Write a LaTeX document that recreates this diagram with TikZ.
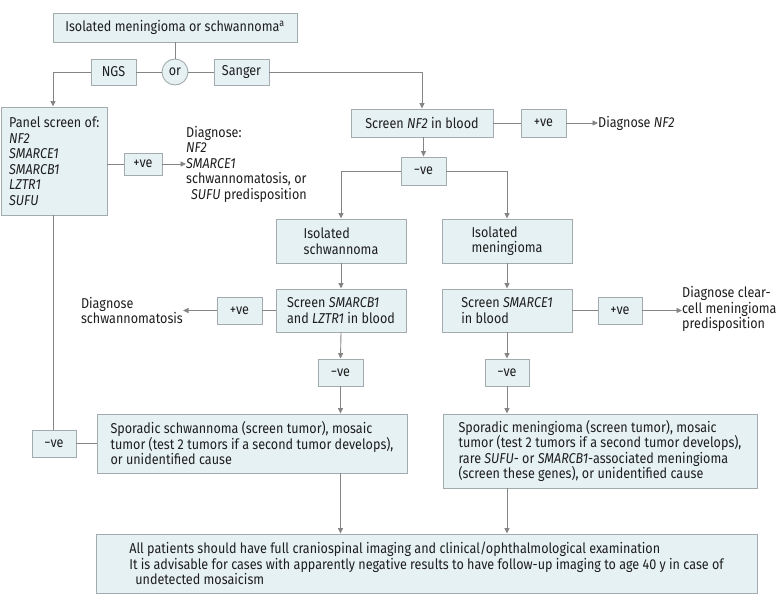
\documentclass[tikz,border=0pt]{standalone}
\usepackage{fontspec}
\setmainfont{Fira Sans}[FakeStretch=0.88]
\usetikzlibrary{arrows.meta}
\definecolor{boxfill}{HTML}{E6F1F4}
\definecolor{boxline}{HTML}{A3ABAE}
\definecolor{conn}{HTML}{858585}
\definecolor{txt}{HTML}{1E1E1E}
\tikzset{
  x=1pt, y=-1pt,
  every node/.style={font=\fontsize{14.3}{15.5}\selectfont, text=txt},
  fbox/.style={draw=boxline, fill=boxfill, line width=0.9pt, inner sep=0pt, align=left},
  plain/.style={inner sep=0pt, align=left},
  wire/.style={draw=conn, line width=0.9pt},
  arr/.style={wire, -{Triangle[length=5.5pt,width=5pt]}},
}
\begin{document}
\begin{tikzpicture}
\useasboundingbox (0,0) rectangle (783,608);
% top
\node[fbox, minimum width=244pt, minimum height=29pt] (top) at (175,27.5) {Isolated meningioma or schwannoma\textsuperscript{a}};
\node[fbox, minimum width=45pt, minimum height=26pt] (ngs) at (113.5,72) {NGS};
\node[draw=boxline, fill=boxfill, line width=0.9pt, circle, minimum size=26pt, inner sep=0pt] (or) at (175,72) {or};
\node[fbox, minimum width=55pt, minimum height=26pt] (sanger) at (241.5,72) {Sanger};
% left branch
\node[fbox, minimum width=105.5pt, minimum height=108pt] (panel) at (54.25,161) {Panel screen of:\\\textit{NF2}\\\textit{SMARCE1}\\\textit{SMARCB1}\\\textit{LZTR1}\\\textit{SUFU}};
\node[fbox, minimum width=38pt, minimum height=22pt] (pos1) at (143,164) {+ve};
\node[plain, anchor=west] (diag1) at (186,164) {Diagnose:\\\textit{NF2}\\\textit{SMARCE1}\\schwannomatosis, or\\\hspace{5pt}\textit{SUFU} predisposition};
% right branch
\node[fbox, minimum width=142pt, minimum height=28pt] (nf2) at (422,123) {Screen \textit{NF2} in blood};
\node[fbox, minimum width=45pt, minimum height=28pt] (pos2) at (543.5,123) {+ve};
\node[plain, anchor=west] (diag2) at (598,123) {Diagnose \textit{NF2}};
\node[fbox, minimum width=45pt, minimum height=28pt] (neg1) at (423.5,171) {−ve};
\node[fbox, minimum width=130pt, minimum height=44pt] (isoS) at (341,241) {Isolated\\schwannoma};
\node[fbox, minimum width=130pt, minimum height=44pt] (isoM) at (507,241) {Isolated\\meningioma};
\node[fbox, minimum width=130pt, minimum height=43pt] (scrB) at (341,310.5) {Screen \textit{SMARCB1}\\and \textit{LZTR1} in blood};
\node[fbox, minimum width=130pt, minimum height=43pt] (scrE) at (507,310.5) {Screen \textit{SMARCE1}\\in blood};
\node[fbox, minimum width=45pt, minimum height=27pt] (pos3) at (239.5,310.5) {+ve};
\node[plain, anchor=east] (diag3) at (183,310.5) {Diagnose\\schwannomatosis};
\node[fbox, minimum width=44pt, minimum height=27pt] (pos4) at (620,310.5) {+ve};
\node[plain, anchor=west] (diag4) at (682,309) {Diagnose clear-\\cell meningioma\\predisposition};
\node[fbox, minimum width=45pt, minimum height=27pt] (neg2) at (340.5,372.5) {−ve};
\node[fbox, minimum width=44pt, minimum height=27pt] (neg3) at (507,372.5) {−ve};
\node[fbox, minimum width=310pt, minimum height=59pt] (sporS) at (252,443.5) {Sporadic schwannoma (screen tumor), mosaic\\tumor (test 2 tumors if a second tumor develops),\\or unidentified cause};
\node[fbox, minimum width=314pt, minimum height=74pt] (sporM) at (600,451) {Sporadic meningioma (screen tumor), mosaic\\tumor (test 2 tumors if a second tumor develops),\\rare \textit{SUFU}- or \textit{SMARCB1}-associated meningioma\\(screen these genes), or unidentified cause};
\node[fbox, minimum width=44pt, minimum height=27pt] (neg4) at (54,443.5) {−ve};
\node[fbox, minimum width=661pt, minimum height=59pt] (bottom) at (426.5,563.5) {All patients should have full craniospinal imaging and clinical/ophthalmological examination\\It is advisable for cases with apparently negative results to have follow-up imaging to age 40 y in\ case of\\\hspace{6pt}undetected mosaicism};
% coordinates
\coordinate (lc) at (53,72);
\coordinate (rc) at (422,72);
\coordinate (nl) at (341,171);
\coordinate (nr) at (507,171);
% connectors
\draw[wire] (top.south) -- (or.north);
\draw[wire] (or.west) -- (ngs.east);
\draw[wire] (sanger.west) -- (or.east);
\draw[arr] (ngs.west) -- (lc) -- (lc |- panel.north);
\draw[arr] (sanger.east) -- (rc) -- (nf2.north);
\draw[wire] (panel.east |- pos1.west) -- (pos1.west);
\draw[arr] (pos1.east) -- (diag1.west);
\draw[wire] (nf2.east) -- (pos2.west);
\draw[arr] (pos2.east) -- (diag2.west);
\draw[arr] (nf2.south -| neg1.north) -- (neg1.north);
\draw[arr] (neg1.west) -- (nl) -- (isoS.north);
\draw[arr] (neg1.east) -- (nr) -- (isoM.north);
\draw[arr] (isoS.south) -- (scrB.north);
\draw[arr] (isoM.south) -- (scrE.north);
\draw[wire] (scrB.west) -- (pos3.east);
\draw[arr] (pos3.west) -- (diag3.east);
\draw[wire] (scrE.east) -- (pos4.west);
\draw[arr] (pos4.east) -- (diag4.west |- pos4.east);
\draw[arr] (scrB.south) -- (neg2.north);
\draw[arr] (scrE.south) -- (neg3.north);
\draw[arr] (neg2.south) -- (neg2.south |- sporS.north);
\draw[arr] (neg3.south) -- (sporM.north -| neg3.south);
\draw[wire] (panel.south -| lc) -- (neg4.north -| lc);
\draw[wire] (neg4.east) -- (sporS.west);
\draw[arr] (sporS.south -| neg2.south) -- (bottom.north -| neg2.south);
\draw[arr] (sporM.south -| neg3.south) -- (bottom.north -| neg3.south);
\end{tikzpicture}
\end{document}
